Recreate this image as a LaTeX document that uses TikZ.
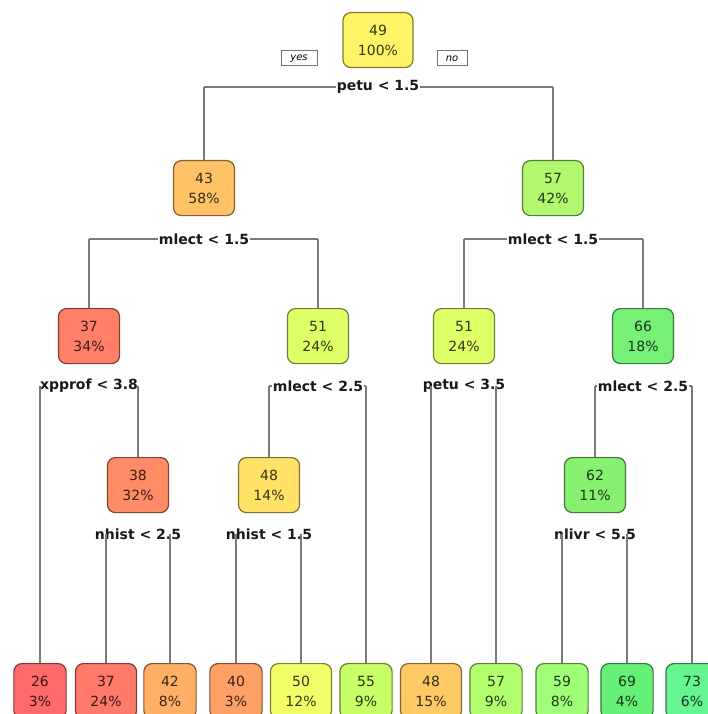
\documentclass[tikz,border=0pt]{standalone}
\usepackage{fontspec}
\setmainfont{DejaVu Sans}
\usetikzlibrary{calc}
\definecolor{c49}{HTML}{FFF466}
\definecolor{c43}{HTML}{FFC266}
\definecolor{c57}{HTML}{B2F86E}
\definecolor{c37}{HTML}{FF8066}
\definecolor{c51}{HTML}{DEFF66}
\definecolor{c66}{HTML}{77F077}
\definecolor{c38}{HTML}{FF8C66}
\definecolor{c48}{HTML}{FFE266}
\definecolor{c62}{HTML}{88F070}
\definecolor{l26}{HTML}{FF6B6B}
\definecolor{l37}{HTML}{FF7A6A}
\definecolor{l42}{HTML}{FFB066}
\definecolor{l40}{HTML}{FFA066}
\definecolor{l50}{HTML}{F2FF66}
\definecolor{l55}{HTML}{C8FF66}
\definecolor{l48}{HTML}{FFCA66}
\definecolor{l57}{HTML}{B2FF6E}
\definecolor{l59}{HTML}{A0FF77}
\definecolor{l69}{HTML}{66F077}
\definecolor{l73}{HTML}{66F590}
\definecolor{conncol}{HTML}{7A7A7A}
\tikzset{
  tn/.style={rectangle, rounded corners=8pt, fill=#1, draw=#1!50!black,
    text=#1!22!black, line width=1.2pt, minimum height=55pt, inner xsep=15pt,
    inner ysep=0pt, align=center, anchor=north,
    font=\fontsize{14}{20}\selectfont},
  conn/.style={draw=conncol, line width=1.2pt},
  lbl/.style={fill=white, inner xsep=1pt, inner ysep=1pt, text=black!90,
    font=\fontsize{14}{16}\selectfont\bfseries},
  yn/.style={draw=black!55, line width=1pt, fill=white, minimum width=#1,
    minimum height=15pt, inner sep=0pt, font=\fontsize{10}{12}\selectfont\itshape}
}
\begin{document}
\begin{tikzpicture}[x=1pt,y=-1pt]
\useasboundingbox (0,0) rectangle (708,714);
\clip (0,0) rectangle (708,714);
% nodes
\node[tn=c49] (r) at (378,12) {49\\100\%};
\node[yn=36pt] (yes) at (299,58.5) {yes};
\node[yn=30pt] (no) at (452,58.5) {no};
\node[tn=c43] (a) at (204,160) {43\\58\%};
\node[tn=c57] (b) at (553,160) {57\\42\%};
\node[tn=c37] (aa) at (89,308) {37\\34\%};
\node[tn=c51] (ab) at (318,308) {51\\24\%};
\node[tn=c51] (ba) at (464,308) {51\\24\%};
\node[tn=c66] (bb) at (643,308) {66\\18\%};
\node[tn=c38] (aab) at (138,457) {38\\32\%};
\node[tn=c48] (aba) at (269,457) {48\\14\%};
\node[tn=c62] (bba) at (595,457) {62\\11\%};
\node[tn=l26] (f1) at (40,663) {26\\3\%};
\node[tn=l37] (f2) at (106,663) {37\\24\%};
\node[tn=l42] (f3) at (170,663) {42\\8\%};
\node[tn=l40] (f4) at (236,663) {40\\3\%};
\node[tn=l50] (f5) at (301,663) {50\\12\%};
\node[tn=l55] (f6) at (366,663) {55\\9\%};
\node[tn=l48] (f7) at (431,663) {48\\15\%};
\node[tn=l57] (f8) at (496,663) {57\\9\%};
\node[tn=l59] (f9) at (562,663) {59\\8\%};
\node[tn=l69] (f10) at (627,663) {69\\4\%};
\node[tn=l73] (f11) at (692,663) {73\\6\%};
% split coordinates
\coordinate (s0) at (378,87);
\coordinate (s1) at (204,239);
\coordinate (s2) at (553,239);
\coordinate (s3) at (89,386);
\coordinate (s4) at (318,386);
\coordinate (s5) at (464,386);
\coordinate (s6) at (643,386);
\coordinate (s7) at (138,534);
\coordinate (s8) at (269,534);
\coordinate (s9) at (595,534);
% horizontal parts of the connectors
\draw[conn] (s0 -| a.north) -- (s0 -| b.north);
\draw[conn] (s1 -| aa.north) -- (s1 -| ab.north);
\draw[conn] (s2 -| ba.north) -- (s2 -| bb.north);
\draw[conn] (s3 -| f1.north) -- (s3 -| aab.north);
\draw[conn] (s4 -| aba.north) -- (s4 -| f6.north);
\draw[conn] (s5 -| f7.north) -- (s5 -| f8.north);
\draw[conn] (s6 -| bba.north) -- (s6 -| f11.north);
\draw[conn] (s7 -| f2.north) -- (s7 -| f3.north);
\draw[conn] (s8 -| f4.north) -- (s8 -| f5.north);
\draw[conn] (s9 -| f9.north) -- (s9 -| f10.north);
% split labels
\node[lbl] (t0) at (s0) {petu < 1.5};
\node[lbl] (t1) at (s1) {mlect < 1.5};
\node[lbl] (t2) at (s2) {mlect < 1.5};
\node[lbl] (t3) at (s3) {xpprof < 3.8};
\node[lbl] (t4) at (s4) {mlect < 2.5};
\node[lbl] (t5) at (s5) {petu < 3.5};
\node[lbl] (t6) at (s6) {mlect < 2.5};
\node[lbl] (t7) at (s7) {nhist < 2.5};
\node[lbl] (t8) at (s8) {nhist < 1.5};
\node[lbl] (t9) at (s9) {nlivr < 5.5};
% vertical parts of the connectors
\foreach \s/\c in {s0/a,s0/b,s1/aa,s1/ab,s2/ba,s2/bb,s3/f1,s3/aab,s4/aba,s4/f6,
  s5/f7,s5/f8,s6/bba,s6/f11,s7/f2,s7/f3,s8/f4,s8/f5,s9/f9,s9/f10}
  \draw[conn] (\s -| \c.north) -- (\c.north);
\end{tikzpicture}
\end{document}
